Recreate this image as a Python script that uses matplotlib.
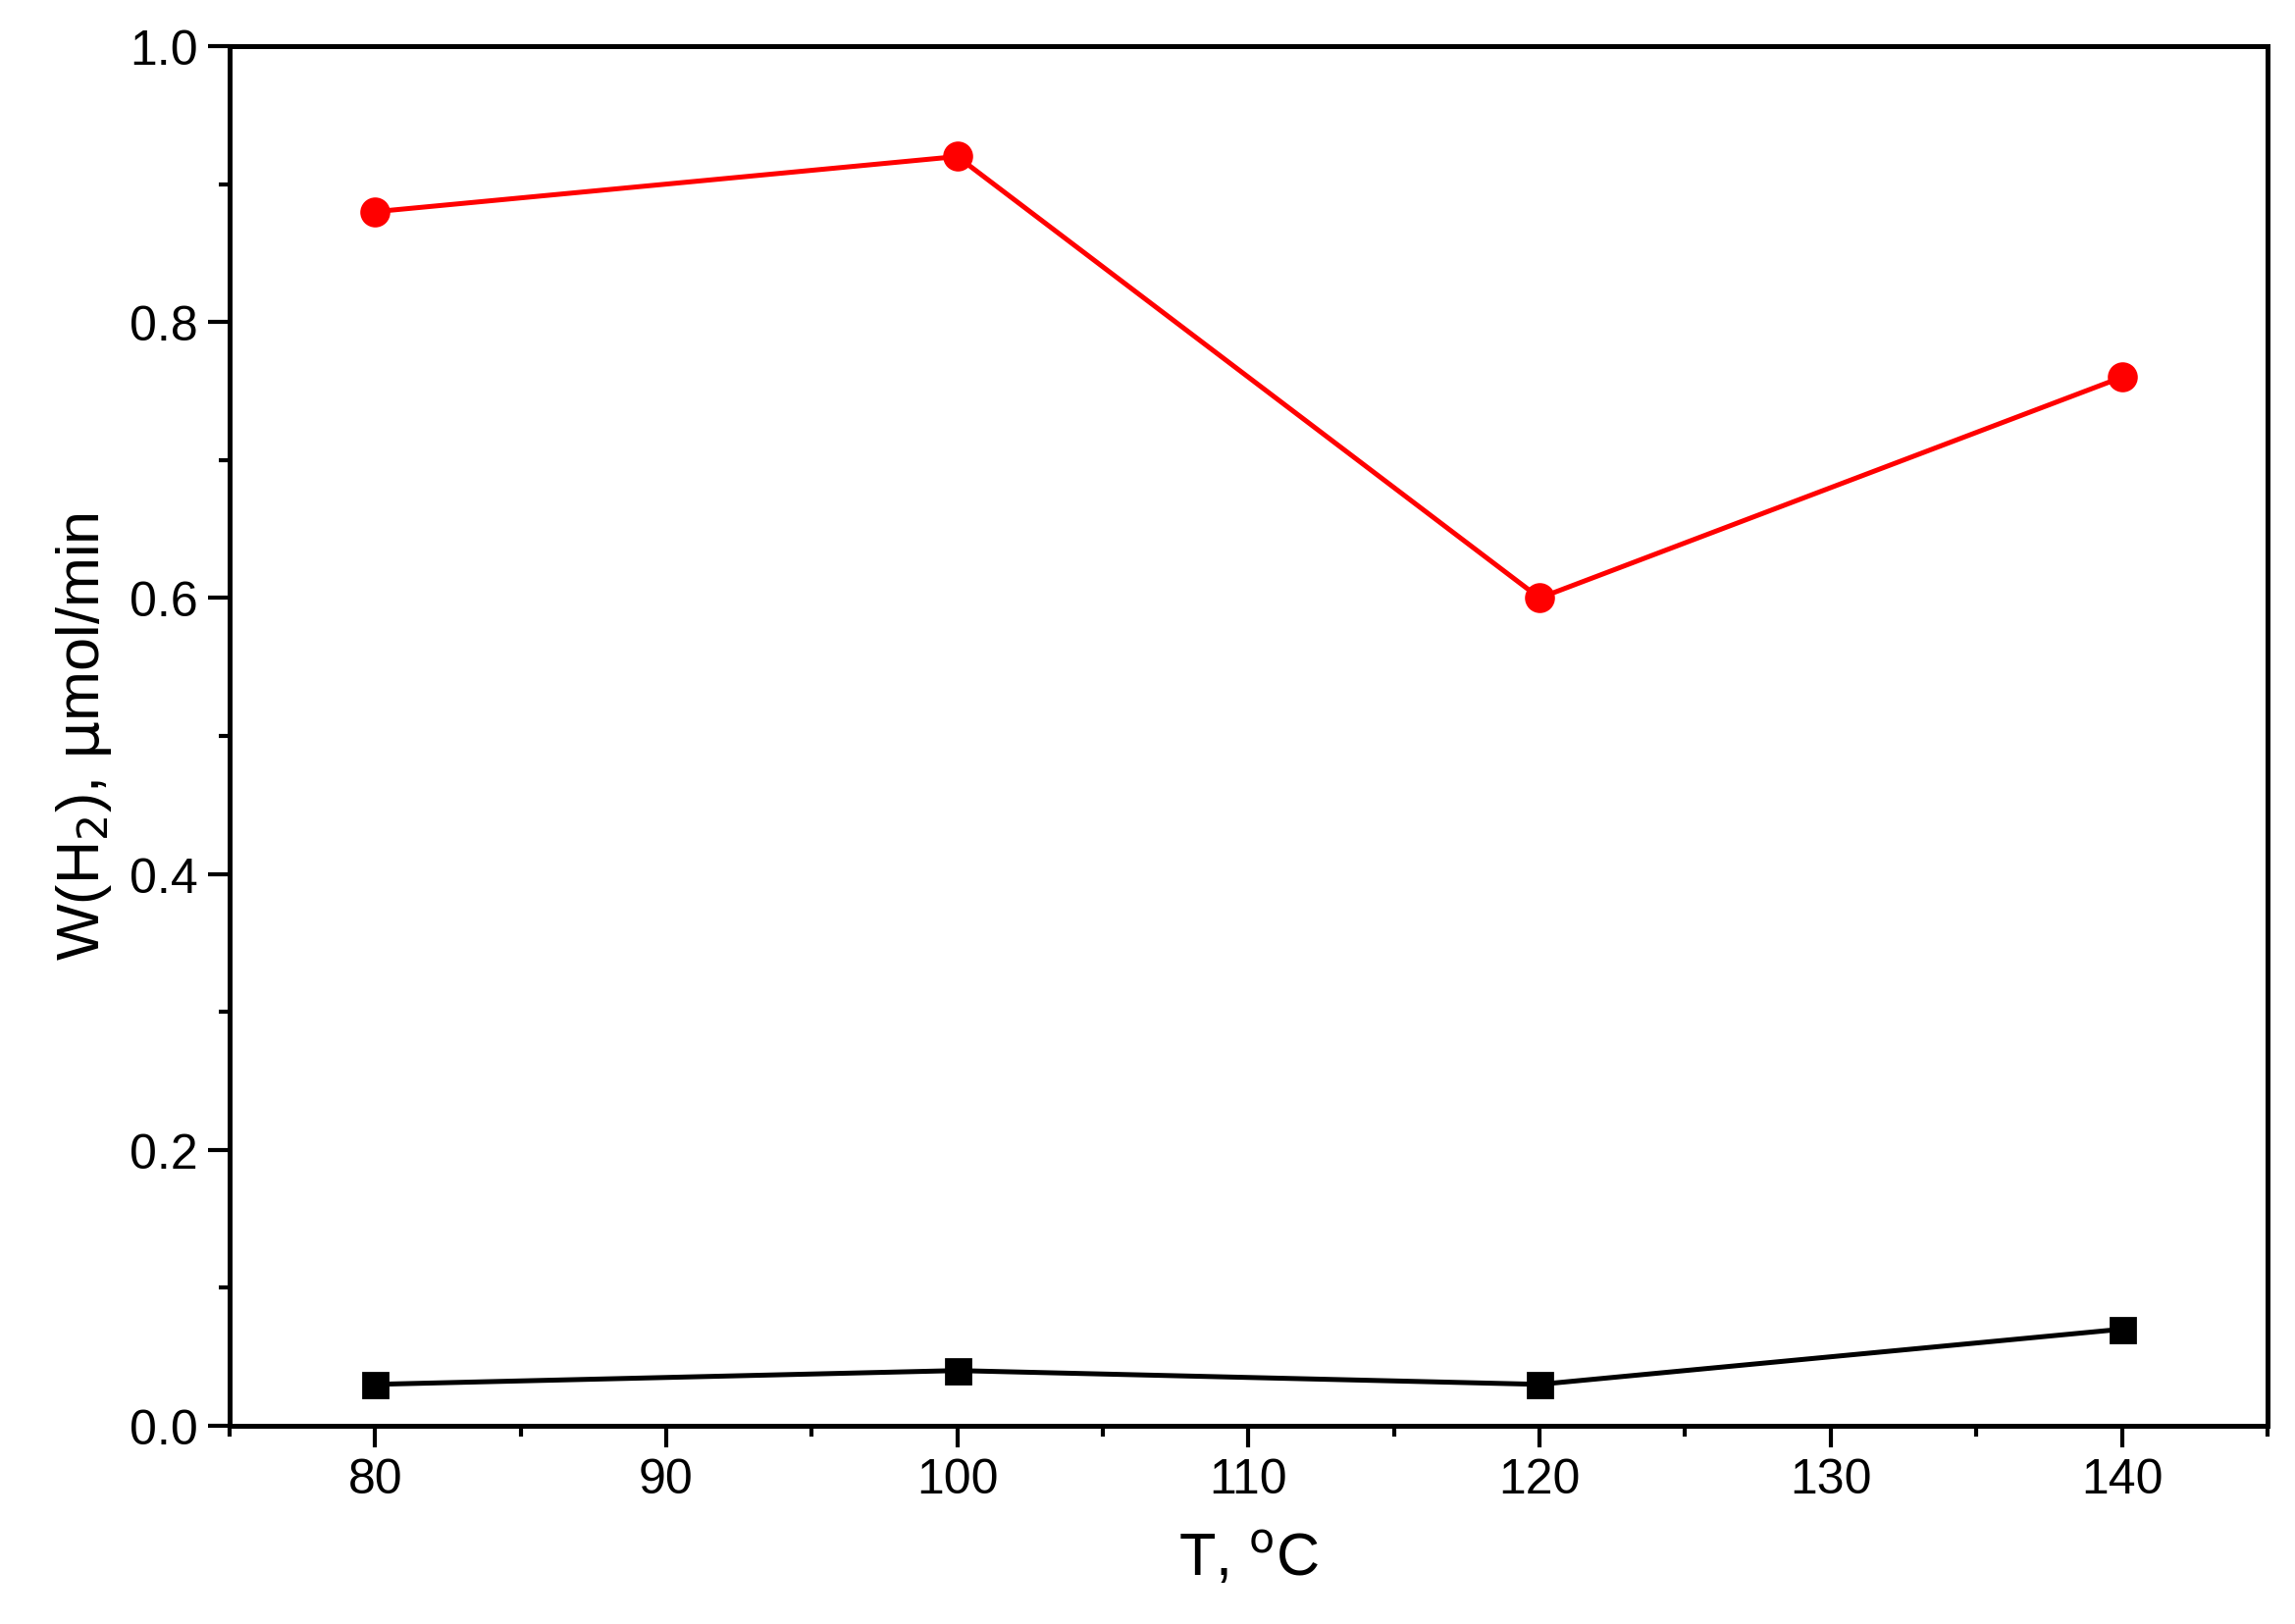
import matplotlib
matplotlib.use("Agg")
import matplotlib.pyplot as plt
from matplotlib.ticker import MultipleLocator

temps = [80, 100, 120, 140]
w_red = [0.88, 0.92, 0.60, 0.76]
w_black = [0.03, 0.04, 0.03, 0.07]

plt.rcParams['font.family'] = ['Liberation Sans', 'DejaVu Sans']

fig = plt.figure(figsize=(11.695, 8.28), dpi=200)
ax = fig.add_axes([0.100, 0.122, 0.888, 0.849])

ax.plot(temps, w_black, color='black', marker='s', markersize=9, linewidth=1.8)
ax.plot(temps, w_red, color='red', marker='o', markersize=10, linewidth=1.8)

ax.set_xlim(75, 145)
ax.set_ylim(0, 1.0)
ax.xaxis.set_major_locator(MultipleLocator(10))
ax.xaxis.set_minor_locator(MultipleLocator(5))
ax.yaxis.set_major_locator(MultipleLocator(0.2))
ax.yaxis.set_minor_locator(MultipleLocator(0.1))
ax.yaxis.set_major_formatter(matplotlib.ticker.FormatStrFormatter('%.1f'))
ax.tick_params(which='major', direction='out', length=8, width=1.5, labelsize=18)
ax.tick_params(which='minor', direction='out', length=4, width=1.5)
for s in ax.spines.values():
    s.set_linewidth(1.8)

ax.set_xlabel(r'T, $^{\mathrm{o}}$C', fontsize=22, labelpad=10)
ax.set_ylabel(r'W(H$_2$), $\mathrm{\mu}$mol/min', fontsize=22, labelpad=6)

fig.savefig('out.png', dpi=200)
